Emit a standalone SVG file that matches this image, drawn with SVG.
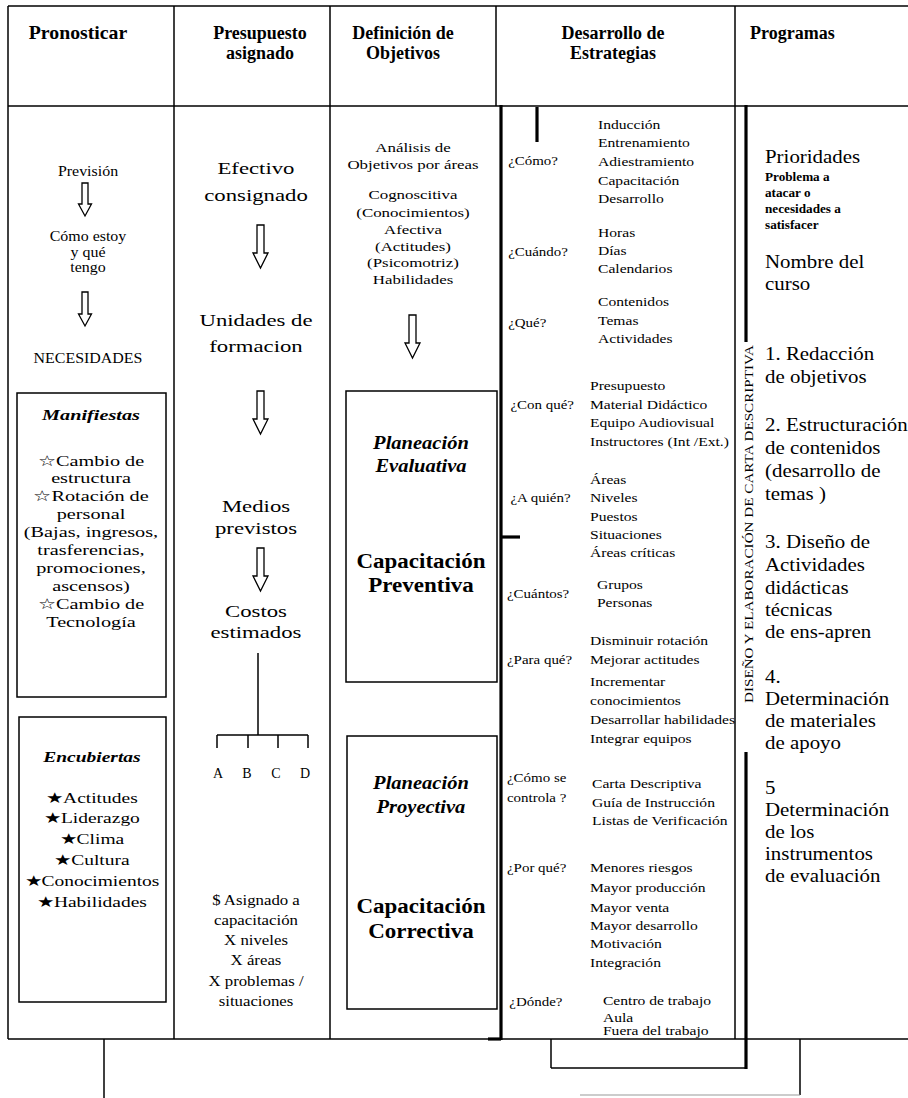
<svg xmlns="http://www.w3.org/2000/svg" width="908" height="1098" viewBox="0 0 908 1098">
  <style>
    text { font-family: "Liberation Serif", "Times New Roman", "DejaVu Serif", serif; fill: #000; }
    .hd { font-size: 18px; font-weight: bold; }
    .mid { text-anchor: middle; }
    .c1 { font-size: 14.5px; }
    .bx { font-size: 15px; }
    .c2 { font-size: 17.5px; }
    .c2s { font-size: 14px; }
    .c3 { font-size: 13.5px; }
    .pl { font-size: 19px; font-weight: bold; font-style: italic; }
    .cp { font-size: 20px; font-weight: bold; }
    .q { font-size: 13px; }
    .p5 { font-size: 19px; }
    .p5s { font-size: 12px; font-weight: bold; }
    .bi { font-weight: bold; font-style: italic; }
    .ln { stroke: #000; stroke-width: 1.5; fill: none; }
    .thk { stroke: #000; stroke-width: 3.2; fill: none; }
    .box { stroke: #000; stroke-width: 1.5; fill: none; }
    .arr { stroke: #000; stroke-width: 1.3; fill: #fff; }
  </style>

  <rect width="908" height="1098" fill="#fff"/>

  <!-- table frame, rules and connectors -->
  <g id="connectors">
    <line class="ln" x1="8" y1="6" x2="908" y2="6"/>
    <line class="ln" x1="8" y1="106" x2="908" y2="106"/>
    <line class="ln" x1="8" y1="1039" x2="908" y2="1039"/>
    <line class="ln" x1="8" y1="6" x2="8" y2="1039"/>
    <line class="ln" x1="174" y1="6" x2="174" y2="1039"/>
    <line class="ln" x1="330" y1="6" x2="330" y2="1039"/>
    <line class="ln" x1="496" y1="6" x2="496" y2="106"/>
    <line class="ln" x1="735" y1="6" x2="735" y2="1039"/>
    <!-- strategies frame -->
    <line class="thk" x1="501" y1="105" x2="501" y2="1040"/>
    <line class="thk" x1="488" y1="1039" x2="501" y2="1039"/>
    <line class="thk" x1="537" y1="107" x2="537" y2="142"/>
    <line class="thk" x1="501" y1="537" x2="520" y2="537"/>
    <line class="thk" x1="746" y1="105" x2="746" y2="342"/>
    <line class="thk" x1="746" y1="752" x2="746" y2="1069"/>
    <!-- lower connectors -->
    <line class="ln" x1="551" y1="1039" x2="551" y2="1068"/>
    <line class="ln" x1="551" y1="1068" x2="747" y2="1068" stroke-width="2"/>
    <line class="ln" x1="800" y1="1039" x2="800" y2="1095"/>
    <line x1="580" y1="1095" x2="800" y2="1095" stroke="#999" stroke-width="1"/>
    <line class="ln" x1="104" y1="1039" x2="104" y2="1098" stroke-width="2"/>
    <!-- budget tree -->
    <line class="ln" x1="258" y1="653" x2="258" y2="735" stroke-width="2"/>
    <line class="ln" x1="217" y1="735" x2="308" y2="735" stroke-width="2"/>
    <line class="ln" x1="217" y1="735" x2="217" y2="748"/>
    <line class="ln" x1="248" y1="735" x2="248" y2="748"/>
    <line class="ln" x1="278" y1="735" x2="278" y2="748"/>
    <line class="ln" x1="308" y1="735" x2="308" y2="748"/>
    <!-- hollow down arrows -->
    <path class="arr" d="M82,183 H88 V204 H91.5 L85,216 L78.5,204 H82 Z"/>
    <path class="arr" d="M82,292 H88 V314 H91.5 L85,326 L78.5,314 H82 Z"/>
    <path class="arr" d="M257,225 H264 V253 H268 L260.5,268 L253,253 H257 Z"/>
    <path class="arr" d="M257,391 H264 V419 H268 L260.5,434 L253,419 H257 Z"/>
    <path class="arr" d="M257,548 H264 V576 H268 L260.5,591 L253,576 H257 Z"/>
    <path class="arr" d="M409,315 H416 V343 H420 L412.5,358 L405,343 H409 Z"/>
  </g>

  <!-- column headings -->
  <g id="headers">
    <text class="hd mid" x="78" y="39" transform="matrix(1.1,0,0,1,-7.8,0)">Pronosticar</text>
    <text class="hd mid" x="260" y="39">Presupuesto</text>
    <text class="hd mid" x="260" y="59">asignado</text>
    <text class="hd mid" x="403" y="39">Definición de</text>
    <text class="hd mid" x="403" y="59">Objetivos</text>
    <text class="hd mid" x="613" y="39">Desarrollo de</text>
    <text class="hd mid" x="613" y="59">Estrategias</text>
    <text class="hd" x="750" y="39">Programas</text>
  </g>

  <!-- forecast column -->
  <g id="pronosticar" transform="matrix(1.1,0,0,1,-8.8,0)">
    <text class="c1 mid" x="88" y="176">Previsión</text>
    <text class="c1 mid" x="88" y="241">Cómo estoy</text>
    <text class="c1 mid" x="88" y="257">y qué</text>
    <text class="c1 mid" x="88" y="272">tengo</text>
    <text class="c1 mid" x="88" y="363">NECESIDADES</text>
  </g>
  <g id="manifiestas">
    <rect class="box" x="17" y="393" width="149" height="304"/>
    <g transform="matrix(1.35,0,0,1,-31.85,0)">
      <text class="bx bi mid" x="91" y="420">Manifiestas</text>
      <text class="bx mid" x="91" y="466">☆Cambio de</text>
      <text class="bx mid" x="91" y="483">estructura</text>
      <text class="bx mid" x="91" y="501">☆Rotación de</text>
      <text class="bx mid" x="91" y="519">personal</text>
      <text class="bx mid" x="91" y="537">(Bajas, ingresos,</text>
      <text class="bx mid" x="91" y="555">trasferencias,</text>
      <text class="bx mid" x="91" y="573">promociones,</text>
      <text class="bx mid" x="91" y="591">ascensos)</text>
      <text class="bx mid" x="91" y="609">☆Cambio de</text>
      <text class="bx mid" x="91" y="627">Tecnología</text>
    </g>
  </g>
  <g id="encubiertas">
    <rect class="box" x="19" y="717" width="147" height="285"/>
    <g transform="matrix(1.3,0,0,1,-27.6,0)">
      <text class="bx bi mid" x="92" y="762">Encubiertas</text>
      <text class="bx mid" x="92" y="803">★Actitudes</text>
      <text class="bx mid" x="92" y="823">★Liderazgo</text>
      <text class="bx mid" x="92" y="844">★Clima</text>
      <text class="bx mid" x="92" y="865">★Cultura</text>
      <text class="bx mid" x="92" y="886">★Conocimientos</text>
      <text class="bx mid" x="92" y="907">★Habilidades</text>
    </g>
  </g>

  <!-- budget column -->
  <g id="presupuesto">
    <g transform="matrix(1.3,0,0,1,-76.8,0)">
      <text class="c2 mid" x="256" y="174">Efectivo</text>
      <text class="c2 mid" x="256" y="201">consignado</text>
      <text class="c2 mid" x="256" y="326">Unidades de</text>
      <text class="c2 mid" x="256" y="352">formacion</text>
      <text class="c2 mid" x="256" y="512">Medios</text>
      <text class="c2 mid" x="256" y="534">previstos</text>
      <text class="c2 mid" x="256" y="617">Costos</text>
      <text class="c2 mid" x="256" y="638">estimados</text>
    </g>
    <text class="c2s mid" x="218" y="778">A</text>
    <text class="c2s mid" x="247" y="778">B</text>
    <text class="c2s mid" x="276" y="778">C</text>
    <text class="c2s mid" x="305" y="778">D</text>
    <g transform="matrix(1.2,0,0,1,-51.2,0)">
      <text class="c2s mid" x="256" y="905">$  Asignado a</text>
      <text class="c2s mid" x="256" y="925">capacitación</text>
      <text class="c2s mid" x="256" y="945">X niveles</text>
      <text class="c2s mid" x="256" y="965">X áreas</text>
      <text class="c2s mid" x="256" y="986">X problemas /</text>
      <text class="c2s mid" x="256" y="1006">situaciones</text>
    </g>
  </g>

  <!-- objectives column -->
  <g id="objetivos" transform="matrix(1.25,0,0,1,-103.25,0)">
    <text class="c3 mid" x="413" y="152">Análisis de</text>
    <text class="c3 mid" x="413" y="169">Objetivos por áreas</text>
    <text class="c3 mid" x="413" y="199">Cognoscitiva</text>
    <text class="c3 mid" x="413" y="217">(Conocimientos)</text>
    <text class="c3 mid" x="413" y="234">Afectiva</text>
    <text class="c3 mid" x="413" y="251">(Actitudes)</text>
    <text class="c3 mid" x="413" y="267">(Psicomotriz)</text>
    <text class="c3 mid" x="413" y="284">Habilidades</text>
  </g>
  <g id="preventiva">
    <rect class="box" x="346" y="391" width="151" height="291"/>
    <text class="pl mid" x="421" y="449" transform="matrix(1.08,0,0,1,-33.7,0)">Planeación</text>
    <text class="pl mid" x="421" y="472" transform="matrix(1.08,0,0,1,-33.7,0)">Evaluativa</text>
    <text class="cp mid" x="421" y="568" transform="matrix(1.15,0,0,1,-63.15,0)">Capacitación</text>
    <text class="cp mid" x="421" y="592" transform="matrix(1.15,0,0,1,-63.15,0)">Preventiva</text>
  </g>
  <g id="correctiva">
    <rect class="box" x="347" y="736" width="150" height="273"/>
    <text class="pl mid" x="421" y="789" transform="matrix(1.08,0,0,1,-33.7,0)">Planeación</text>
    <text class="pl mid" x="421" y="813" transform="matrix(1.08,0,0,1,-33.7,0)">Proyectiva</text>
    <text class="cp mid" x="421" y="913" transform="matrix(1.15,0,0,1,-63.15,0)">Capacitación</text>
    <text class="cp mid" x="421" y="938" transform="matrix(1.15,0,0,1,-63.15,0)">Correctiva</text>
  </g>

  <!-- strategies column: questions -->
  <g id="preguntas" transform="matrix(1.15,0,0,1,-76.05,0)">
    <text class="q" x="508" y="165">¿Cómo?</text>
    <text class="q" x="508" y="256">¿Cuándo?</text>
    <text class="q" x="508" y="327">¿Qué?</text>
    <text class="q" x="510" y="409">¿Con qué?</text>
    <text class="q" x="510" y="502">¿A  quién?</text>
    <text class="q" x="507" y="598">¿Cuántos?</text>
    <text class="q" x="507" y="664">¿Para qué?</text>
    <text class="q" x="507" y="782">¿Cómo se</text>
    <text class="q" x="507" y="802">controla ?</text>
    <text class="q" x="507" y="872">¿Por qué?</text>
    <text class="q" x="509" y="1006">¿Dónde?</text>
  </g>
  <!-- strategies column: answers -->
  <g id="respuestas" transform="matrix(1.2,0,0,1,-118,0)">
    <text class="q" x="596.7" y="129">Inducción</text>
    <text class="q" x="596.7" y="147">Entrenamiento</text>
    <text class="q" x="596.7" y="166">Adiestramiento</text>
    <text class="q" x="596.7" y="185">Capacitación</text>
    <text class="q" x="596.7" y="203">Desarrollo</text>

    <text class="q" x="596.7" y="237">Horas</text>
    <text class="q" x="596.7" y="255">Días</text>
    <text class="q" x="596.7" y="273">Calendarios</text>

    <text class="q" x="596.7" y="306">Contenidos</text>
    <text class="q" x="596.7" y="325">Temas</text>
    <text class="q" x="596.7" y="343">Actividades</text>

    <text class="q" x="590" y="390">Presupuesto</text>
    <text class="q" x="590" y="409">Material Didáctico</text>
    <text class="q" x="590" y="427">Equipo Audiovisual</text>
    <text class="q" x="590" y="446">Instructores (Int /Ext.)</text>

    <text class="q" x="590" y="484">Áreas</text>
    <text class="q" x="590" y="502">Niveles</text>
    <text class="q" x="590" y="521">Puestos</text>
    <text class="q" x="590" y="539">Situaciones</text>
    <text class="q" x="590" y="557">Áreas críticas</text>

    <text class="q" x="595.8" y="589">Grupos</text>
    <text class="q" x="595.8" y="607">Personas</text>

    <text class="q" x="590" y="645">Disminuir rotación</text>
    <text class="q" x="590" y="664">Mejorar actitudes</text>
    <text class="q" x="590" y="686">Incrementar</text>
    <text class="q" x="590" y="705">conocimientos</text>
    <text class="q" x="590" y="724">Desarrollar habilidades</text>
    <text class="q" x="590" y="743">Integrar equipos</text>

    <text class="q" x="591.7" y="788">Carta Descriptiva</text>
    <text class="q" x="591.7" y="807">Guía de Instrucción</text>
    <text class="q" x="591.7" y="825">Listas de Verificación</text>

    <text class="q" x="590" y="872">Menores riesgos</text>
    <text class="q" x="590" y="892">Mayor producción</text>
    <text class="q" x="590" y="912">Mayor venta</text>
    <text class="q" x="590" y="930">Mayor desarrollo</text>
    <text class="q" x="590" y="948">Motivación</text>
    <text class="q" x="590" y="967">Integración</text>

    <text class="q" x="600.8" y="1005">Centro de trabajo</text>
    <text class="q" x="600.8" y="1022">Aula</text>
    <text class="q" x="600.8" y="1035">Fuera del trabajo</text>
  </g>

  <!-- side caption -->
  <g id="carta">
    <text transform="translate(753,524) rotate(-90)" font-size="12.5" text-anchor="middle" textLength="358" lengthAdjust="spacingAndGlyphs">DISEÑO Y ELABORACIÓN DE CARTA DESCRIPTIVA</text>
  </g>

  <!-- programmes column -->
  <g id="programas" transform="matrix(1.1,0,0,1,-76.5,0)">
    <text class="p5" x="765" y="163">Prioridades</text>
    <text class="p5s" x="765" y="181">Problema a</text>
    <text class="p5s" x="765" y="197">atacar o</text>
    <text class="p5s" x="765" y="213">necesidades a</text>
    <text class="p5s" x="765" y="229">satisfacer</text>
    <text class="p5" x="765" y="268">Nombre del</text>
    <text class="p5" x="765" y="290">curso</text>
    <text class="p5" x="765" y="360">1. Redacción</text>
    <text class="p5" x="765" y="383">de objetivos</text>
    <text class="p5" x="765" y="431">2. Estructuración</text>
    <text class="p5" x="765" y="454">de contenidos</text>
    <text class="p5" x="765" y="477">(desarrollo de</text>
    <text class="p5" x="765" y="500">temas )</text>
    <text class="p5" x="765" y="548">3. Diseño de</text>
    <text class="p5" x="765" y="571">Actividades</text>
    <text class="p5" x="765" y="594">didácticas</text>
    <text class="p5" x="765" y="616">técnicas</text>
    <text class="p5" x="765" y="638">de ens-apren</text>
    <text class="p5" x="765" y="683">4.</text>
    <text class="p5" x="765" y="705">Determinación</text>
    <text class="p5" x="765" y="727">de materiales</text>
    <text class="p5" x="765" y="749">de apoyo</text>
    <text class="p5" x="765" y="794">5</text>
    <text class="p5" x="765" y="816">Determinación</text>
    <text class="p5" x="765" y="838">de los</text>
    <text class="p5" x="765" y="860">instrumentos</text>
    <text class="p5" x="765" y="882">de evaluación</text>
  </g>
</svg>
